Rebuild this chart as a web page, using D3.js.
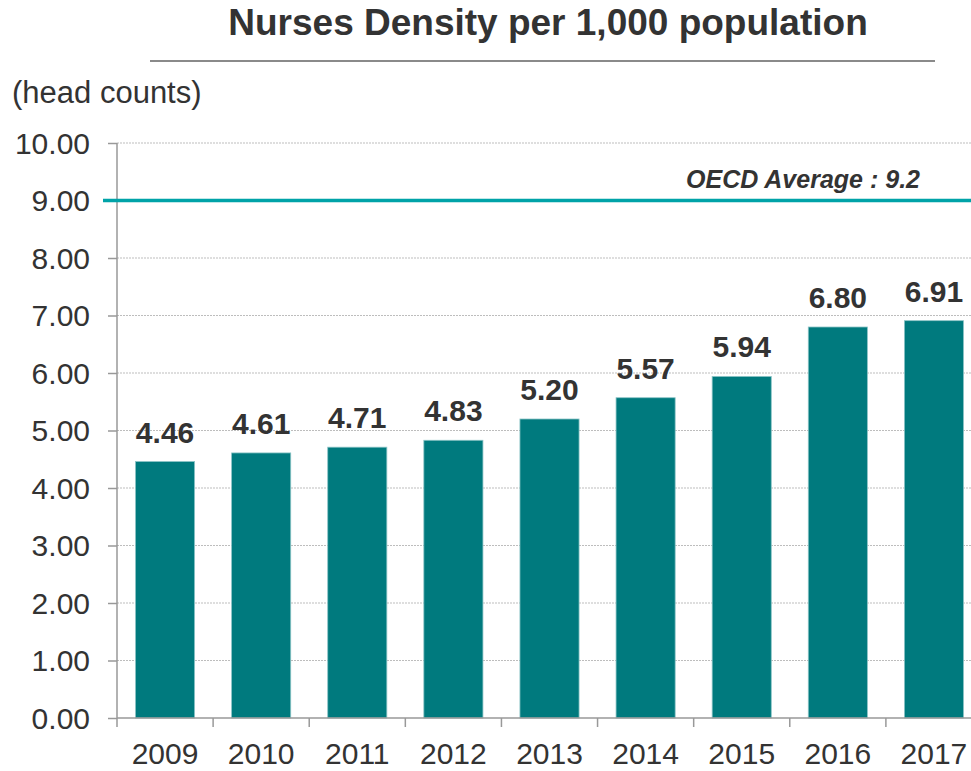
<!DOCTYPE html>
<html>
<head>
<meta charset="utf-8">
<script src="https://cdn.jsdelivr.net/npm/d3@7"></script>
<style>
  body { margin: 0; background: #fff; }
  text { font-family: "Liberation Sans", Arial, sans-serif; fill: #333; }
</style>
</head>
<body>
<svg id="chart"></svg>
<script>
// data
const years = ["2009", "2010", "2011", "2012", "2013", "2014", "2015", "2016", "2017"];
const density = [4.46, 4.61, 4.71, 4.83, 5.20, 5.57, 5.94, 6.80, 6.91];
const yTicks = [0, 1, 2, 3, 4, 5, 6, 7, 8, 9, 10];
const oecdValue = 9;
const oecdLabel = "OECD Average : 9.2";

const width = 971, height = 771;
const svg = d3.select("#chart").attr("width", width).attr("height", height);

const x = d3.scaleBand()
  .domain(years)
  .range([117, 982])
  .paddingInner(0.385)
  .paddingOuter(0.1925);

const y = d3.scaleLinear().domain([0, 10]).range([718, 143]);

// title
svg.append("text")
  .attr("x", 548)
  .attr("y", 35)
  .attr("text-anchor", "middle")
  .attr("font-size", 37)
  .attr("font-weight", "bold")
  .text("Nurses Density per 1,000 population");

svg.append("line")
  .attr("x1", 150).attr("x2", 935)
  .attr("y1", 61).attr("y2", 61)
  .attr("stroke", "#8a8a8a")
  .attr("stroke-width", 2);

svg.append("text")
  .attr("x", 12)
  .attr("y", 103)
  .attr("font-size", 31)
  .text("(head counts)");

// gridlines
svg.append("g")
  .selectAll("line")
  .data(yTicks.filter((d) => d > 0))
  .join("line")
  .attr("x1", 117)
  .attr("x2", width)
  .attr("y1", (d) => y(d))
  .attr("y2", (d) => y(d))
  .attr("stroke", "#bdbdbd")
  .attr("stroke-width", 1)
  .attr("stroke-dasharray", "2,1");

// bars
svg.append("g")
  .selectAll("rect")
  .data(years)
  .join("rect")
  .attr("x", (d) => x(d))
  .attr("y", (d, i) => y(density[i]))
  .attr("width", x.bandwidth())
  .attr("height", (d, i) => y(0) - y(density[i]))
  .attr("fill", "#007a7e")
  .attr("stroke", "#8cc4c6")
  .attr("stroke-width", 0.8);

// value labels
svg.append("g")
  .selectAll("text")
  .data(years)
  .join("text")
  .attr("x", (d) => x(d) + x.bandwidth() / 2)
  .attr("y", (d, i) => y(density[i]) - 19)
  .attr("text-anchor", "middle")
  .attr("font-size", 30)
  .attr("font-weight", "bold")
  .text((d, i) => density[i].toFixed(2));

// y axis
const yAxis = svg.append("g")
  .attr("transform", "translate(117,0)")
  .call(d3.axisLeft(y).tickValues(yTicks).tickFormat(d3.format(".2f")).tickSize(9).tickPadding(18));
yAxis.select(".domain").remove();
yAxis.selectAll(".tick line").attr("stroke", "#999").attr("stroke-width", 1.5);
yAxis.selectAll(".tick text")
  .attr("font-size", 30)
  .attr("font-family", "Liberation Sans, Arial, sans-serif")
  .attr("fill", "#333")
  .attr("dy", "0.34em");

svg.append("line")
  .attr("x1", 117).attr("x2", 117)
  .attr("y1", y(10)).attr("y2", y(0) + 9)
  .attr("stroke", "#999")
  .attr("stroke-width", 1.5);

// x axis
svg.append("line")
  .attr("x1", 117).attr("x2", width)
  .attr("y1", y(0)).attr("y2", y(0))
  .attr("stroke", "#999")
  .attr("stroke-width", 1.5);

svg.append("g")
  .selectAll("line")
  .data(years.slice(1))
  .join("line")
  .attr("x1", (d) => x(d) - x.step() * x.paddingInner() / 2)
  .attr("x2", (d) => x(d) - x.step() * x.paddingInner() / 2)
  .attr("y1", y(0))
  .attr("y2", y(0) + 9)
  .attr("stroke", "#999")
  .attr("stroke-width", 1.5);

svg.append("g")
  .selectAll("text")
  .data(years)
  .join("text")
  .attr("x", (d) => x(d) + x.bandwidth() / 2)
  .attr("y", 764)
  .attr("text-anchor", "middle")
  .attr("font-size", 30)
  .text((d) => d);

// OECD average line
svg.append("line")
  .attr("x1", 103).attr("x2", width)
  .attr("y1", y(oecdValue)).attr("y2", y(oecdValue))
  .attr("stroke", "#00a3a8")
  .attr("stroke-width", 3.5);

svg.append("text")
  .attr("x", 686)
  .attr("y", 188)
  .attr("font-size", 26)
  .attr("font-weight", "bold")
  .attr("font-style", "italic")
  .attr("textLength", 234)
  .attr("lengthAdjust", "spacingAndGlyphs")
  .text(oecdLabel);
</script>
</body>
</html>
